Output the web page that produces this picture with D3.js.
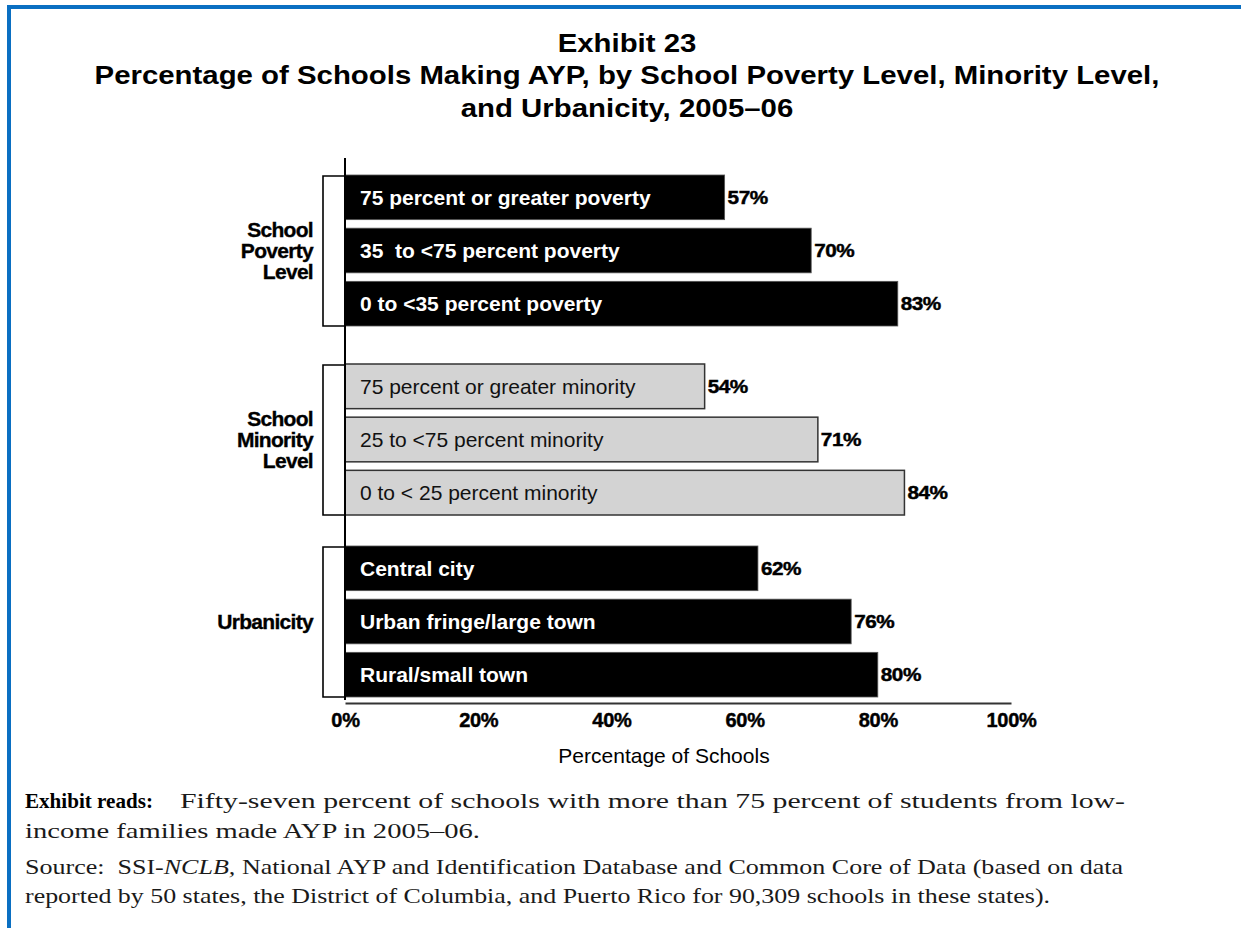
<!DOCTYPE html>
<html>
<head>
<meta charset="utf-8">
<script src="https://cdn.jsdelivr.net/npm/d3@7"></script>
<style>
  html, body { margin: 0; padding: 0; background: #fff; }
  svg { display: block; }
</style>
</head>
<body>
<svg id="chart" width="1241" height="928"></svg>
<script>
// Exhibit 23 data: share of schools making AYP, 2005–06
const titleLines = [
  "Exhibit 23",
  "Percentage of Schools Making AYP, by School Poverty Level, Minority Level,",
  "and Urbanicity, 2005–06"
];
const groupLabels = [["School", "Poverty", "Level"], ["School", "Minority", "Level"], ["Urbanicity"]];
const categories = [
  "75 percent or greater poverty",
  "35  to <75 percent poverty",
  "0 to <35 percent poverty",
  "75 percent or greater minority",
  "25 to <75 percent minority",
  "0 to < 25 percent minority",
  "Central city",
  "Urban fringe/large town",
  "Rural/small town"
];
const categoryGroup = [0, 0, 0, 1, 1, 1, 2, 2, 2];
const values = [57, 70, 83, 54, 71, 84, 62, 76, 80];
const xTicks = [0, 20, 40, 60, 80, 100];
const xTitle = "Percentage of Schools";

const sans = "Liberation Sans, Arial, sans-serif";
const serif = "Liberation Serif, Times New Roman, serif";
const svg = d3.select("#chart");

// page frame (blue rule at top and left)
const blue = "#0a6fc2";
svg.append("rect").attr("x", 7).attr("y", 5).attr("width", 1241).attr("height", 4).attr("fill", blue);
svg.append("rect").attr("x", 7).attr("y", 5).attr("width", 4).attr("height", 928).attr("fill", blue);

// title, set in a slightly widened bold sans
const titleY = [52, 84, 117];
svg.append("g").attr("transform", "translate(627,0) scale(1.13,1)")
  .selectAll("text").data(titleLines).join("text")
  .attr("x", 0)
  .attr("y", (d, i) => titleY[i])
  .attr("text-anchor", "middle")
  .attr("font-family", sans)
  .attr("font-weight", "bold")
  .attr("font-size", 26)
  .attr("fill", "#000")
  .text(d => d);

// scales
const x = d3.scaleLinear().domain([0, 100]).range([345, 1011]);
const groupTop = [175, 364, 546];
const groupH = 151;
const yScales = groupTop.map((top, g) =>
  d3.scaleBand()
    .domain(categories.filter((c, i) => categoryGroup[i] === g))
    .range([top, top + groupH])
    .paddingInner(0.16));

const rows = categories.map((c, i) => ({
  cat: c, value: values[i], group: categoryGroup[i],
  y: yScales[categoryGroup[i]](c), h: yScales[categoryGroup[i]].bandwidth()
}));

// brackets tying each group of bars to its label
const brackets = svg.append("g");
yScales.forEach((s, g) => {
  const [t, b] = s.range();
  brackets.append("path")
    .attr("d", `M${x(0)},${t + 1}H323V${b}H${x(0)}`)
    .attr("fill", "none").attr("stroke", "#000").attr("stroke-width", 1.6);
});

// group labels
const labelG = svg.append("g");
groupLabels.forEach((lines, g) => {
  const [t, b] = yScales[g].range();
  const mid = (t + b) / 2;
  const lh = 21;
  labelG.append("g").selectAll("text").data(lines).join("text")
    .attr("x", 313)
    .attr("y", (d, i) => mid + (i - (lines.length - 1) / 2) * lh)
    .attr("dy", "0.36em")
    .attr("text-anchor", "end")
    .attr("font-family", sans)
    .attr("font-weight", "bold")
    .attr("font-size", 21)
    .attr("letter-spacing", -0.7)
    .attr("stroke", "#000").attr("stroke-width", 0.35)
    .text(d => d);
});

// bars
svg.append("g").selectAll("rect").data(rows).join("rect")
  .attr("x", x(0))
  .attr("y", d => d.y)
  .attr("width", d => x(d.value) - x(0))
  .attr("height", d => d.h)
  .attr("fill", d => d.group === 1 ? "#d3d3d3" : "#000")
  .attr("stroke", d => d.group === 1 ? "#333" : "#555")
  .attr("stroke-width", d => d.group === 1 ? 1.5 : 0.8);

// category labels inside the bars
svg.append("g").selectAll("text").data(rows).join("text")
  .attr("x", 360)
  .attr("y", d => d.y + d.h / 2)
  .attr("dy", "0.36em")
  .attr("font-family", sans)
  .attr("font-weight", d => d.group === 1 ? "normal" : "bold")
  .attr("font-size", 21)
  .attr("fill", d => d.group === 1 ? "#111" : "#fff")
  .style("white-space", "pre")
  .text(d => d.cat);

// value labels at bar ends
svg.append("g").selectAll("text").data(rows).join("text")
  .attr("transform", d => `translate(${x(d.value) + 3},${d.y + d.h / 2}) scale(1.15,1)`)
  .attr("dy", "0.36em")
  .attr("font-family", sans)
  .attr("font-weight", "bold")
  .attr("font-size", 18)
  .attr("letter-spacing", -0.4)
  .attr("stroke", "#000").attr("stroke-width", 0.45)
  .text(d => d.value + "%");

// y axis line
svg.append("line")
  .attr("x1", x(0)).attr("x2", x(0)).attr("y1", 158).attr("y2", 700)
  .attr("stroke", "#000").attr("stroke-width", 2);

// x axis
const xAxis = d3.axisBottom(x).tickValues(xTicks).tickFormat(d => d + "%").tickSize(0).tickPadding(10);
const ax = svg.append("g").attr("transform", "translate(0,703)").call(xAxis);
ax.select(".domain").attr("stroke", "#333").attr("stroke-width", 2);
ax.selectAll("text")
  .attr("font-family", sans)
  .attr("font-weight", "bold")
  .attr("font-size", 20)
  .attr("letter-spacing", -0.3)
  .attr("stroke", "#000").attr("stroke-width", 0.45)
  .attr("fill", "#000");

svg.append("text")
  .attr("x", 664).attr("y", 763)
  .attr("text-anchor", "middle")
  .attr("font-family", sans)
  .attr("font-size", 21)
  .attr("fill", "#000")
  .text(xTitle);

// notes beneath the chart
const note = svg.append("g").attr("font-family", serif).attr("fill", "#1a1a1a");
note.append("text").attr("x", 25).attr("y", 808).attr("font-size", 22)
  .attr("font-weight", "bold").attr("fill", "#000")
  .attr("textLength", 128).attr("lengthAdjust", "spacingAndGlyphs")
  .text("Exhibit reads:");
note.append("text").attr("x", 180).attr("y", 808).attr("font-size", 22)
  .attr("textLength", 945).attr("lengthAdjust", "spacingAndGlyphs")
  .text("Fifty-seven percent of schools with more than 75 percent of students from low-");
note.append("text").attr("x", 25).attr("y", 838).attr("font-size", 22)
  .attr("textLength", 455).attr("lengthAdjust", "spacingAndGlyphs")
  .text("income families made AYP in 2005–06.");
const s1 = note.append("text").attr("x", 25).attr("y", 874).attr("font-size", 21)
  .attr("textLength", 1098).attr("lengthAdjust", "spacingAndGlyphs");
s1.append("tspan").text("Source:\u00a0 SSI-");
s1.append("tspan").attr("font-style", "italic").text("NCLB,");
s1.append("tspan").text(" National AYP and Identification Database and Common Core of Data (based on data");
note.append("text").attr("x", 25).attr("y", 903).attr("font-size", 21)
  .attr("textLength", 1025).attr("lengthAdjust", "spacingAndGlyphs")
  .text("reported by 50 states, the District of Columbia, and Puerto Rico for 90,309 schools in these states).");
</script>
</body>
</html>
